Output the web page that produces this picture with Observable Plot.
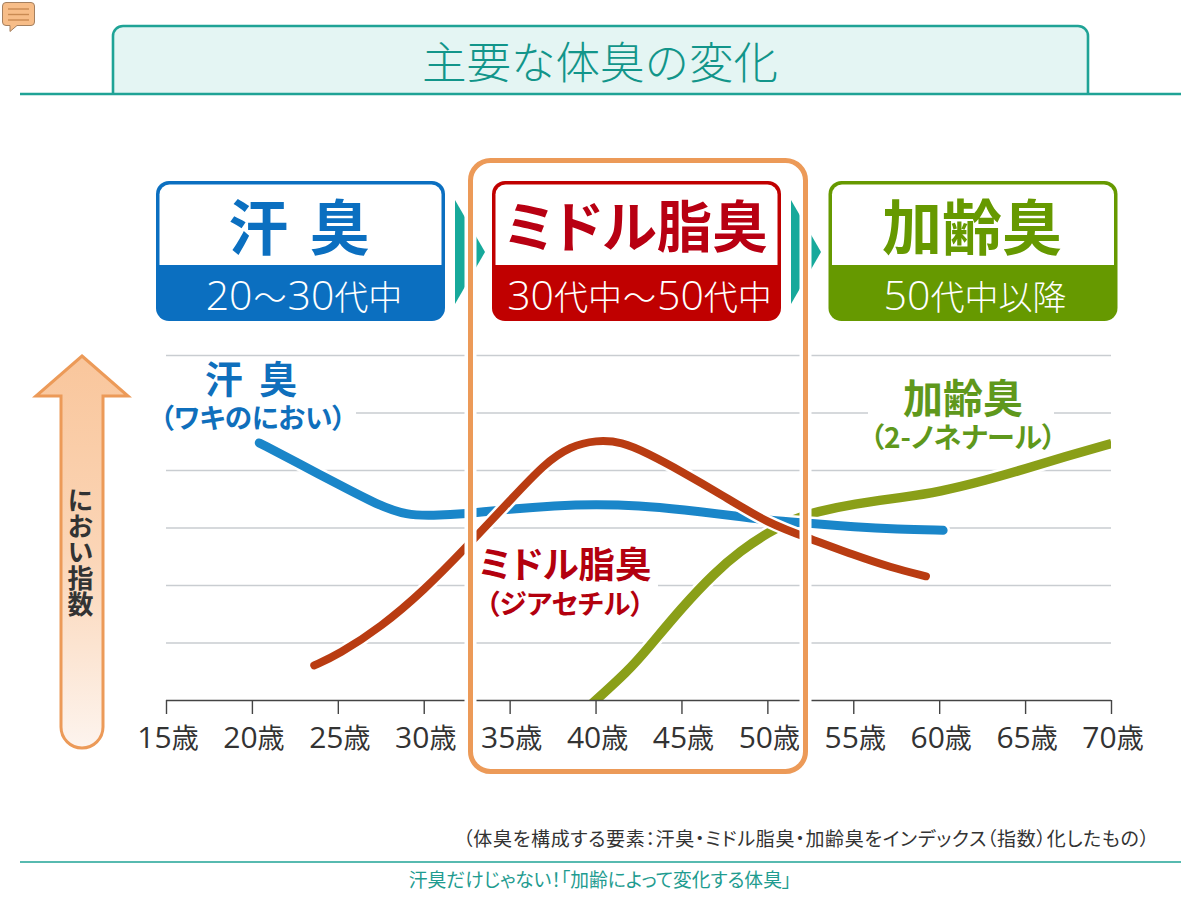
<!DOCTYPE html>
<html lang="ja">
<head>
<meta charset="utf-8">
<script src="https://cdn.jsdelivr.net/npm/d3@7"></script>
<script src="https://cdn.jsdelivr.net/npm/@observablehq/plot@0.6"></script>
<style>
html,body{margin:0;padding:0;background:#fff}
#page{position:relative;width:1200px;height:900px;overflow:hidden;font-family:"Noto Sans CJK JP","Noto Sans",sans-serif;font-feature-settings:"palt";}
#page svg.deco{position:absolute;left:0;top:0;pointer-events:none}
.t{position:absolute;white-space:nowrap;line-height:1;text-align:center;transform:translate(-50%,-50%)}
.k{font-size:34px}
.w{font-size:33px;margin:0 1px}
</style>
</head>
<body>
<div id="page"></div>
<script>
const ageTicks = [15,20,25,30,35,40,45,50,55,60,65,70];
const gridLevels = [1,2,3,4,5,6];

const sweatAge = [20.4,22.7,25,27.3,29,30.5,32.3,35,37.6,40,42.5,45,48.4,50,52.6,55,57.5,60.2];
const sweatIdx = [4.48,4.12,3.76,3.40,3.22,3.22,3.24,3.33,3.39,3.41,3.39,3.32,3.20,3.13,3.08,3.02,2.98,2.96];

const middleAge = [23.6,25,27.5,30,32.3,35,37,38.5,40,41.5,43,45,47.3,50,52.6,55,57.2,59.2];
const middleIdx = [0.61,0.80,1.28,1.92,2.62,3.48,4.12,4.42,4.53,4.50,4.30,3.98,3.58,3.08,2.80,2.53,2.31,2.16];

const agingAge = [39.6,41.9,43,45,46.9,48.4,50,51.6,52.8,55,57.8,60,62.7,65,67.5,70];
const agingIdx = [-0.1,0.52,0.90,1.62,2.22,2.60,2.92,3.17,3.28,3.42,3.53,3.63,3.83,4.03,4.26,4.47];

const toRows = (xs, ys) => xs.map((age, i) => ({age, idx: ys[i]}));
const sweat = toRows(sweatAge, sweatIdx);
const middle = toRows(middleAge, middleIdx);
const aging = toRows(agingAge, agingIdx);

const BLUE="#1a86c9", RED="#b93c12", GREEN="#8a9f18", TEAL="#1fa396", ORANGE="#ec9a58";
const curve="basis";
const seriesLine=(rows,color,w,cap,clip)=>[
  Plot.line(rows,{x:"age",y:"idx",curve,stroke:"#fff",strokeWidth:w+5,strokeLinecap:cap,clip}),
  Plot.line(rows,{x:"age",y:"idx",curve,stroke:color,strokeWidth:w,strokeLinecap:cap,clip})
];

const chart = Plot.plot({
  width:1200,height:900,
  marginLeft:166,marginRight:89,marginTop:355,marginBottom:200,
  style:{fontFamily:'"Open Sans","Noto Sans CJK JP",sans-serif',color:"#333",background:"transparent",position:"absolute",left:0,top:0},
  x:{domain:[15,70]},
  y:{domain:[0,6],axis:null},
  marks:[
    Plot.ruleY(gridLevels,{stroke:"#c9cdd1",strokeWidth:1.6}),
    ...seriesLine(aging,GREEN,9.5,"butt",true),
    ...seriesLine(sweat,BLUE,9,"round",false),
    ...seriesLine(middle,RED,8,"round",false),
    Plot.ruleY([0],{stroke:"#444",strokeWidth:1.6}),
    Plot.axisX({ticks:ageTicks,tickSize:14,tickPadding:12,fontSize:30,label:null,stroke:"#444",strokeWidth:1.4,tickFormat:d=>d+"歳"})
  ]
});
const page=document.getElementById("page");
page.appendChild(chart);
// smaller 歳 in the tick labels
d3.select(chart).selectAll("text").filter(function(){return /歳$/.test(this.textContent)}).each(function(){
  const s=this.textContent.replace("歳","");
  const el=d3.select(this);
  el.text(null).attr("dx",1.5);
  el.append("tspan").text(s);
  el.append("tspan").attr("font-size",27).attr("font-family",'"Noto Sans CJK JP"').text("歳");
});

// frame, headers and arrows
const NS="http://www.w3.org/2000/svg";
const deco=d3.select(page).append(()=>document.createElementNS(NS,"svg")).attr("class","deco").attr("width",1200).attr("height",900);
const defs=deco.append("defs");
const g=defs.append("linearGradient").attr("id","ag").attr("x1",0).attr("y1",0).attr("x2",0).attr("y2",1);
g.append("stop").attr("offset","0").attr("stop-color","#f9c69c");
g.append("stop").attr("offset","0.5").attr("stop-color","#fbd5b6");
g.append("stop").attr("offset","1").attr("stop-color","#fdf4ee");

// top icon
deco.append("path").attr("d","M6 2.5H31a3.5 3.5 0 0 1 3.5 3.5V22a3.5 3.5 0 0 1-3.5 3.5H17L10 31.5V25.5H6A3.5 3.5 0 0 1 2.5 22V6A3.5 3.5 0 0 1 6 2.5Z").attr("fill","#f7bd88").attr("stroke","#a5805f").attr("stroke-width",1);
[9,14.5,20].forEach(y=>deco.append("line").attr("x1",8).attr("x2",29).attr("y1",y).attr("y2",y).attr("stroke","#c98a52").attr("stroke-width",1.4));

// header tab and rules
deco.append("path").attr("d","M113 94V36a10 10 0 0 1 10-10H1078a10 10 0 0 1 10 10V94").attr("fill","#e4f5f3").attr("stroke",TEAL).attr("stroke-width",2.6);
deco.append("line").attr("x1",20).attr("x2",1181).attr("y1",94).attr("y2",94).attr("stroke",TEAL).attr("stroke-width",2.6);
deco.append("line").attr("x1",20).attr("x2",1181).attr("y1",862).attr("y2",862).attr("stroke",TEAL).attr("stroke-width",1.6);

// process triangles
[455,791].forEach(x=>deco.append("path").attr("d",`M${x} 200L${x+30} 252L${x} 304Z`).attr("fill","#17a99b"));

// category boxes
const boxes=[
 {x:156,w:289,c:"#0b6fc0"},
 {x:492,w:289,c:"#c00000"},
 {x:828.5,w:289,c:"#669900"}
];
boxes.forEach(b=>{
  deco.append("rect").attr("x",b.x).attr("y",181).attr("width",b.w).attr("height",140).attr("rx",13).attr("fill",b.c);
  deco.append("path").attr("d",`M${b.x+3.5} 265V194.5a10 10 0 0 1 10-10H${b.x+b.w-13.5}a10 10 0 0 1 10 10V265Z`).attr("fill","#fff");
});

// big arrow
deco.append("path").attr("d","M82 356L128 396H103V727a21 21 0 0 1-42 0V396H36Z").attr("fill","url(#ag)").attr("stroke",ORANGE).attr("stroke-width",3).attr("stroke-linejoin","miter");

// highlight frame with white halo
deco.append("rect").attr("x",470.5).attr("y",160.5).attr("width",335).attr("height",611).attr("rx",20).attr("fill","none").attr("stroke","#fff").attr("stroke-width",12);
deco.append("rect").attr("x",470.5).attr("y",160.5).attr("width",335).attr("height",611).attr("rx",20).attr("fill","none").attr("stroke",ORANGE).attr("stroke-width",5);

// text
const T=(txt,x,y,size,color,extra={})=>{
  const d=document.createElement("div");d.className="t";d.innerHTML=txt;
  Object.assign(d.style,{left:x+"px",top:y+"px",fontSize:size+"px",color,...extra});
  page.appendChild(d);return d;
};
const B={fontWeight:700};
T("主要な体臭の変化",600,60,44.5,"#12958a",{fontFeatureSettings:"normal",fontWeight:300});
T("汗 臭",301,224,60,"#0b6fc0",{...B,letterSpacing:"4px"});
T("ミドル脂臭",636,224,55.5,"#b80012",B);
T("加齢臭",972,224,60,"#669900",B);
const sub=s=>s.split(/([0-9]+|～)/).filter(Boolean).map(m=>/[0-9]/.test(m)?`<span>${m}</span>`:m==="～"?`<span class="w">${m}</span>`:`<span class="k">${m}</span>`).join("");
const S={fontFamily:'"Open Sans","Noto Sans CJK JP",sans-serif',fontWeight:300};
T(sub("20～30代中"),304,294,41,"#fff",S);
T(sub("30代中～50代中"),639.5,294,41,"#fff",S);
T(sub("50代中以降"),975,294,41,"#fff",S);

// series labels: white plates hide the gridlines behind them
const plate=(x,y,w,h)=>{const d=document.createElement("div");Object.assign(d.style,{position:"absolute",left:x+"px",top:y+"px",width:w+"px",height:h+"px",background:"#fff"});page.appendChild(d)};
plate(160,402,196,28);
plate(868,402,186,20);
plate(476,575,182,20);
T("汗 臭",253,377,38,"#0f6fbc",{...B,letterSpacing:"4px"});
T("（ワキのにおい）",253,417,27.5,"#0f6fbc",B);
T("ミドル脂臭",565,563,36.5,"#b3000e",B);
T("（ジアセチル）",565,603,27.5,"#b3000e",B);
T("加齢臭",963,396,40,"#5f981c",B);
T("（2-ノネナール）",963,436,28,"#5f981c",B);

T("におい指数",80,552,26,"#333",{writingMode:"vertical-rl",fontWeight:700,fontFeatureSettings:"normal"});
T("（体臭を構成する要素：汗臭・ミドル脂臭・加齢臭をインデックス（指数）化したもの）",806.5,837,19,"#333",{letterSpacing:".7px"});
T("汗臭だけじゃない！「加齢によって変化する体臭」",600,879,18.8,"#1f9c90");
</script>
</body>
</html>
